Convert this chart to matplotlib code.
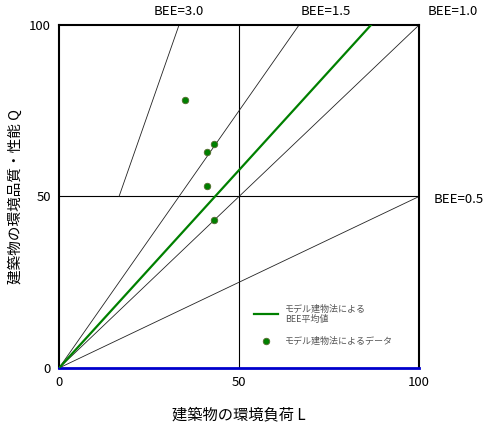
import matplotlib
matplotlib.use("Agg")
import matplotlib.pyplot as plt
import numpy as np

plt.rcParams["font.family"] = ["Noto Sans CJK JP", "DejaVu Sans"]

# BEE reference lines: (BEE value, Q where the line starts)
bee_values = [3.0, 1.5, 1.0, 0.5]
bee_q_start = [50, 0, 0, 0]
bee_labels = ["BEE=3.0", "BEE=1.5", "BEE=1.0", "BEE=0.5"]

# model-building-method average BEE
bee_avg = 1.154

# model-building-method data (L, Q)
data_L = [35.0, 41.0, 43.1, 41.0, 43.1]
data_Q = [78.1, 63.1, 65.2, 53.1, 43.1]

ticks = [0, 50, 100]

fig = plt.figure(figsize=(4.92, 4.28), dpi=100)
ax = fig.add_axes([0.12, 0.1402, 0.7317, 0.8014])
ax.set_xlim(0, 100)
ax.set_ylim(0, 100)

# centre cross
ax.axvline(50, color="black", lw=0.8, zorder=1)
ax.axhline(50, color="black", lw=0.8, zorder=1)

for bee, q0 in zip(bee_values, bee_q_start):
    l_end = min(100, 100 / bee)
    l0 = q0 / bee
    ax.plot([l0, l_end], [q0, bee * l_end], color="#222222", lw=0.6, zorder=2)

l_avg_end = 100 / bee_avg
ax.plot([0, l_avg_end], [0, 100], color="#008000", lw=1.6, zorder=3,
        label="モデル建物法による\nBEE平均値")
ax.scatter(data_L, data_Q, s=22, color="#008000", edgecolor="#556b2f",
           linewidth=0.6, zorder=4, label="モデル建物法によるデータ")

# BEE labels outside the frame
ax.text(100 / 3, 102, bee_labels[0], ha="center", va="bottom", fontsize=9.5,
        clip_on=False)
ax.text(100 / 1.5 + 7.5, 102, bee_labels[1], ha="center", va="bottom", fontsize=9.5,
        clip_on=False)
ax.text(109.5, 102, bee_labels[2], ha="center", va="bottom", fontsize=9.5,
        clip_on=False)
ax.text(104, 49, bee_labels[3], ha="left", va="center", fontsize=9.5,
        clip_on=False)

ax.set_xticks(ticks)
ax.set_yticks(ticks)
ax.tick_params(length=0, labelsize=9.5, pad=6)

for side in ["top", "right", "left"]:
    ax.spines[side].set_color("black")
    ax.spines[side].set_linewidth(1.5)
ax.spines["bottom"].set_color("#0000cc")
ax.spines["bottom"].set_linewidth(2)

ax.set_xlabel("建築物の環境負荷 L", fontsize=11, labelpad=12)
ax.set_ylabel("建築物の環境品質・性能 Q", fontsize=10.5, labelpad=4)

leg = ax.legend(loc="upper left", bbox_to_anchor=(0.52, 0.21), frameon=False,
                fontsize=6.5, handlelength=2.6, labelspacing=1.4,
                handletextpad=0.8)
for t in leg.get_texts():
    t.set_color("#555555")

fig.savefig("out.png", dpi=100)
